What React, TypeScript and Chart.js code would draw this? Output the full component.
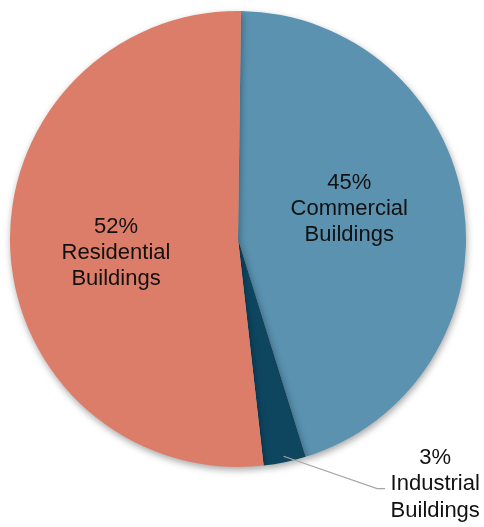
import React, { useEffect, useRef } from "react";
import { Chart, registerables } from "chart.js";

Chart.register(...registerables);

const categories = ["Commercial Buildings", "Industrial Buildings", "Residential Buildings"];
const percentValues = [45, 3, 52];
const sliceColors = ["#5A92B0", "#0E4660", "#DC7D69"];
const labelLines = [
  ["45%", "Commercial", "Buildings"],
  ["3%", "Industrial", "Buildings"],
  ["52%", "Residential", "Buildings"],
];

const shadowPlugin = {
  id: "pieShadow",
  beforeDatasetsDraw(chart: any) {
    const ctx = chart.ctx;
    ctx.save();
    ctx.shadowColor = "rgba(0,0,0,0.35)";
    ctx.shadowBlur = 7;
    ctx.shadowOffsetX = 1;
    ctx.shadowOffsetY = 3;
  },
  afterDatasetsDraw(chart: any) {
    chart.ctx.restore();
  },
};

const labelPlugin = {
  id: "sliceLabels",
  afterDraw(chart: any) {
    const meta = chart.getDatasetMeta(0);
    const arc0 = meta.data[0];
    const cx = arc0.x;
    const cy = arc0.y;
    const r = arc0.outerRadius;
    const ctx = chart.ctx;
    ctx.save();
    ctx.font = "22px 'Liberation Sans', Arial, sans-serif";
    ctx.fillStyle = "#111111";
    ctx.textAlign = "center";
    ctx.textBaseline = "middle";
    // label anchor positions relative to center (in units of radius), line height
    const anchors = [
      [0.488, -0.13, 26],
      [0.865, 1.075, 26.5],
      [-0.535, 0.06, 26],
    ];
    labelLines.forEach((lines, i) => {
      const x = cx + anchors[i][0] * r;
      const y = cy + anchors[i][1] * r;
      lines.forEach((t, j) => {
        ctx.fillText(t, x, y + (j - 1) * anchors[i][2]);
      });
    });
    // leader line for industrial slice
    const a = meta.data[1];
    const mid = (a.startAngle + a.endAngle) / 2;
    const sx = cx + Math.cos(mid) * (r - 6);
    const sy = cy + Math.sin(mid) * (r - 6);
    ctx.strokeStyle = "#A6A6A6";
    ctx.lineWidth = 1.2;
    ctx.beginPath();
    ctx.moveTo(sx, sy);
    ctx.lineTo(cx + 0.61 * r, cy + 1.095 * r);
    ctx.lineTo(cx + 0.645 * r, cy + 1.095 * r);
    ctx.stroke();
    ctx.restore();
  },
};

export default function App() {
  const ref = useRef<HTMLCanvasElement | null>(null);
  useEffect(() => {
    document.body.style.margin = "0";
    if (!ref.current) return;
    const chart = new Chart(ref.current, {
      type: "pie",
      data: {
        labels: categories,
        datasets: [
          {
            data: percentValues,
            backgroundColor: sliceColors,
            borderWidth: 0,
          },
        ],
      },
      options: {
        responsive: false,
        animation: false,
        rotation: 0.75,
        layout: { padding: { left: 10, right: 18, top: 11, bottom: 60 } },
        plugins: {
          legend: { display: false },
          tooltip: { enabled: false },
        },
      },
      plugins: [shadowPlugin, labelPlugin],
    });
    return () => chart.destroy();
  }, []);
  return (
    <div style={{ width: 484, height: 527, background: "#ffffff" }}>
      <canvas ref={ref} width={484} height={527} style={{ display: "block" }} />
    </div>
  );
}
